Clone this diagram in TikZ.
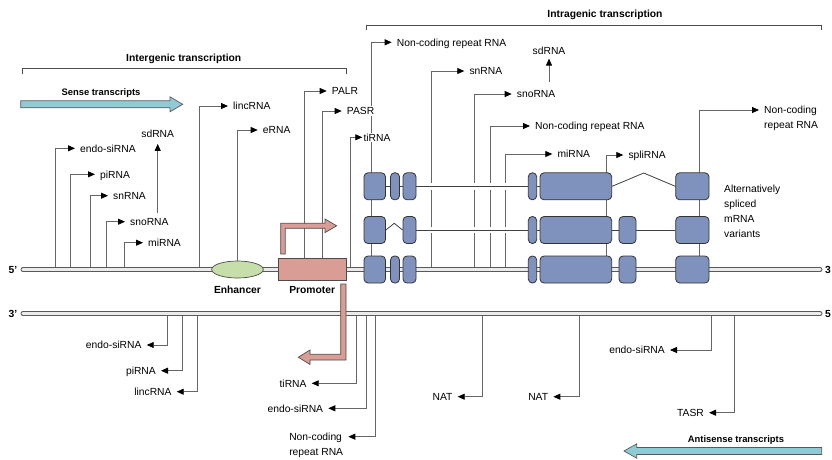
\documentclass[tikz,border=0pt]{standalone}
\usepackage{fontspec}
\setmainfont{Liberation Sans}
\usetikzlibrary{positioning, arrows.meta, calc, shapes.geometric}

\definecolor{exonblue}{HTML}{7F92BE}
\definecolor{enhgreen}{HTML}{C6DEA9}
\definecolor{promred}{HTML}{DA9D96}
\definecolor{txcyan}{HTML}{90CBD5}

\begin{document}
\begin{tikzpicture}[x=1pt, y=-1pt,
  font=\fontsize{10.3}{15}\selectfont,
  lab/.style={inner xsep=5pt, inner ysep=1pt, text height=7.4pt, text depth=0pt},
  twoline/.style={inner xsep=5pt, inner ysep=1pt, align=left},
  tag/.style={font=\fontsize{10.3}{15}\selectfont\bfseries, inner sep=1pt, text height=7.4pt, text depth=0pt},
  tagsm/.style={tag, font=\fontsize{9.4}{12}\selectfont\bfseries},
  tx/.style={draw=black!60, line width=0.8pt, -{Triangle[length=7pt, width=6pt, color=black]}},
  strand/.style={draw=black!65, line width=0.8pt, double=black!8, double distance=3.4pt, line cap=round},
  bracket/.style={draw=black!70, line width=0.8pt},
  bigarrow/.style={draw=black!65, fill=txcyan, line width=0.7pt},
  exon/.style={rectangle, rounded corners=4pt, draw=black!80, fill=exonblue, line width=0.8pt,
               minimum height=27pt, inner sep=0pt},
  intron/.style={draw=black!75, line width=0.8pt,
                 preaction={draw=white, line width=6.5pt, shorten <=0.6pt, shorten >=0.6pt}},
  bent/.style={draw=black!70, fill=promred, line width=0.7pt},
  enhancer/.style={ellipse, draw=black!70, fill=enhgreen, line width=0.7pt, inner sep=0pt,
                   minimum width=51.6pt, minimum height=17pt},
  promoter/.style={rectangle, draw=black!70, fill=promred, line width=0.7pt, inner sep=0pt,
                   minimum width=67.7pt, minimum height=22pt},
]
\useasboundingbox (0,0) rectangle (832,459);

% headings and brackets
\node[tag] (inter) at (183.7,57.3) {Intergenic transcription};
\draw[bracket] (22,74) |- (346.7,68.3) -- (346.7,74);
\node[tag] (intra) at (605,14) {Intragenic transcription};
\draw[bracket] (366.7,30) |- (821,25) -- (821,30);

% direction of transcription
\draw[bigarrow] (20.7,100.8) -- (170,100.8) -- (170,96.8) -- (182.7,104.3) -- (170,111.8)
  -- (170,107.8) -- (20.7,107.8) -- cycle;
\node[tagsm] (sense-t) at (101,91.7) {Sense transcripts};
\draw[bigarrow] (821.7,447.5) -- (636.7,447.5) -- (636.7,443.8) -- (624,451) -- (636.7,458.2)
  -- (636.7,454.5) -- (821.7,454.5) -- cycle;
\node[tagsm] (anti-t) at (736,439) {Antisense transcripts};

\coordinate (top-l) at (23,269.5); \coordinate (top-r) at (820,269.5);
\coordinate (bot-l) at (23,313.5); \coordinate (bot-r) at (820,313.5);

% intergenic sense transcripts
\node[lab, anchor=west] (endo1) at (75,148.3) {endo-siRNA};
\draw[tx] (55,0 |- top-l) |- (endo1.west);
\node[lab, anchor=west] (pi1) at (95,174.3) {piRNA};
\draw[tx] (70,0 |- top-l) |- (pi1.west);
\node[lab, anchor=west] (sn1) at (108,195.7) {snRNA};
\draw[tx] (90,0 |- top-l) |- (sn1.west);
\node[lab, anchor=west] (sno1) at (125,221.7) {snoRNA};
\draw[tx] (106.7,0 |- top-l) |- (sno1.west);
\node[lab, anchor=west] (mi1) at (143,242.7) {miRNA};
\draw[tx] (124.3,0 |- top-l) |- (mi1.west);
\node[lab] (sd1) at (157.7,134) {sdRNA};
\draw[tx, shorten <=4pt, shorten >=5pt] (sno1.north -| sd1.south) -- (sd1.south);
\node[lab, anchor=west] (linc1) at (228,106) {lincRNA};
\draw[tx] (199.3,0 |- top-l) |- (linc1.west);

% repeat RNA over the first exon, cut by the labels in front
\node[lab, anchor=west] (nc1) at (391.7,42.3) {Non-coding repeat RNA};
\draw[tx] (371.7,0 |- top-l) |- (nc1.west);
\node[lab, anchor=west, fill=white, inner xsep=1pt] (ti1) at (362.3,137.3) {tiRNA};
\draw[tx] (350,0 |- top-l) |- (ti1.west);

% intragenic sense transcripts
\node[lab, anchor=west] (sn2) at (464.3,71) {snRNA};
\draw[tx] (431.7,0 |- top-l) |- (sn2.west);
\node[lab, anchor=west] (sno2) at (511.7,94) {snoRNA};
\draw[tx] (474,0 |- top-l) |- (sno2.west);
\node[lab] (sd2) at (549,50.7) {sdRNA};
\draw[tx, shorten <=7.5pt, shorten >=3pt] (sno2.north -| sd2.south) -- (sd2.south);
\node[lab, anchor=west] (nc2) at (530,126) {Non-coding repeat RNA};
\draw[tx] (490.7,0 |- top-l) |- (nc2.west);
\node[lab, anchor=west] (mi2) at (552.3,154) {miRNA};
\draw[tx] (505.3,0 |- top-l) |- (mi2.west);
\node[lab, anchor=west] (spli) at (623.3,155) {spliRNA};
\draw[tx] (606.7,0 |- top-l) |- (spli.west);
\node[twoline, anchor=north west] (nc3) at (759,105.3) {Non-coding\\repeat RNA};
\draw[tx] (699.3,0 |- top-l) |- ([yshift=-4.7pt]nc3.north west);

% antisense transcripts
\node[lab, anchor=east] (endo2) at (146.7,345) {endo-siRNA};
\draw[tx] (167.7,0 |- bot-l) |- (endo2.east);
\node[lab, anchor=east] (pi2) at (161,370.7) {piRNA};
\draw[tx] (182.3,0 |- bot-l) |- (pi2.east);
\node[lab, anchor=east] (linc2) at (176.7,391.7) {lincRNA};
\draw[tx] (197.3,0 |- bot-l) |- (linc2.east);
\node[lab, anchor=east] (ti2) at (311.7,383.3) {tiRNA};
\draw[tx] (356.7,0 |- bot-l) |- (ti2.east);
\node[lab, anchor=east] (endo3) at (328.3,408.3) {endo-siRNA};
\draw[tx] (366,0 |- bot-l) |- (endo3.east);
\node[twoline, anchor=north east] (nc4) at (348.3,432) {Non-coding\\repeat RNA};
\draw[tx] (375,0 |- bot-l) |- ([yshift=-4.7pt]nc4.north east);
\node[lab, anchor=east] (nat1) at (457.7,396.7) {NAT};
\draw[tx] (482.7,0 |- bot-l) |- (nat1.east);
\node[lab, anchor=east] (nat2) at (553.3,396.7) {NAT};
\draw[tx] (579.3,0 |- bot-l) |- (nat2.east);
\node[lab, anchor=east] (endo4) at (670,350) {endo-siRNA};
\draw[tx] (711.7,0 |- bot-l) |- (endo4.east);
\node[lab, anchor=east] (tasr) at (709,412.7) {TASR};
\draw[tx] (734.3,0 |- bot-l) |- (tasr.east);

% the two strands
\draw[strand] (top-l) -- (top-r);
\draw[strand] (bot-l) -- (bot-r);

% enhancer and promoter
\node[enhancer] (enh) at (237.5,269.5) {};
\node[promoter] (prom) at (312.15,269.3) {};
\node[tag, below=6.5pt of enh] (enh-t) {Enhancer};
\node[tag, below=4.5pt of prom] (prom-t) {Promoter};
\node[lab, anchor=west] (erna) at (257.7,130) {eRNA};
\draw[tx] (enh.north) |- (erna.west);
\node[lab, anchor=west] (palr) at (326.7,91) {PALR};
\draw[tx] (304.7,0 |- prom.north) |- (palr.west);
\node[lab, anchor=west, fill=white] (pasr) at (341.7,111) {PASR};
\draw[tx] (322.7,0 |- prom.north) |- (pasr.west);
\draw[bent] (280.7,254) -- (280.7,223.3) -- (325,223.3) -- (325,219) -- (336.7,225.8)
  -- (325,232.6) -- (325,228.3) -- (285.2,228.3) -- (285.2,254) -- cycle;
\draw[bent] (340.7,284) -- (340.7,354.3) -- (310,354.3) -- (310,350) -- (298.3,357.2)
  -- (310,364.4) -- (310,360) -- (346,360) -- (346,284) -- cycle;

% exons of the three mRNA variants
\node[exon, minimum width=21.5pt] (A1) at (374.75,186.3) {};
\node[exon, minimum width=9pt] (B1) at (395,186.3) {};
\node[exon, minimum width=13pt] (C1) at (409.5,186.3) {};
\node[exon, minimum width=8.4pt] (D1) at (532.5,186.3) {};
\node[exon, minimum width=71.7pt] (E1) at (575.85,186.3) {};
\node[exon, minimum width=33.3pt] (G1) at (692.35,186.3) {};
\node[exon, minimum width=21.5pt] (A2) at (374.75,230) {};
\node[exon, minimum width=13pt] (C2) at (409.5,230) {};
\node[exon, minimum width=8.4pt] (D2) at (532.5,230) {};
\node[exon, minimum width=71.7pt] (E2) at (575.85,230) {};
\node[exon, minimum width=17pt] (F2) at (627.5,230) {};
\node[exon, minimum width=33.3pt] (G2) at (692.35,230) {};
\node[exon, minimum width=21.5pt] (A3) at (374.75,269.5) {};
\node[exon, minimum width=9pt] (B3) at (395,269.5) {};
\node[exon, minimum width=13pt] (C3) at (409.5,269.5) {};
\node[exon, minimum width=8.4pt] (D3) at (532.5,269.5) {};
\node[exon, minimum width=71.7pt] (E3) at (575.85,269.5) {};
\node[exon, minimum width=17pt] (F3) at (627.5,269.5) {};
\node[exon, minimum width=33.3pt] (G3) at (692.35,269.5) {};

% introns
\draw[intron] (A1.east) -- (B1.west);
\draw[intron] (B1.east) -- (C1.west);
\draw[intron] (C1.east) -- (D1.west);
\draw[intron] (D1.east) -- (E1.west);
\draw[intron] (C2.east) -- (D2.west);
\draw[intron] (D2.east) -- (E2.west);
\draw[intron] (E2.east) -- (F2.west);
\draw[intron] (F2.east) -- (G2.west);
\draw[draw=black!75, line width=0.8pt] (E1.east) -- ($(E1.east)!.5!(G1.west)+(0,-13.3)$) -- (G1.west);
\draw[draw=black!75, line width=0.8pt] (A2.east) -- ($(A2.east)!.5!(C2.west)+(0,-6.7)$) -- (C2.west);

\node[twoline, anchor=north west, inner sep=0pt] (alt) at (724,185.3) {Alternatively\\spliced\\mRNA\\variants};

% strand ends
\node[tag] (t5) at (13,269.5) {5'};
\node[tag] (b3) at (13,313.5) {3'};
\node[tag, anchor=west] (t3) at (824,269.5) {3};
\node[tag, anchor=west] (b5) at (824,313.5) {5};
\end{tikzpicture}
\end{document}
